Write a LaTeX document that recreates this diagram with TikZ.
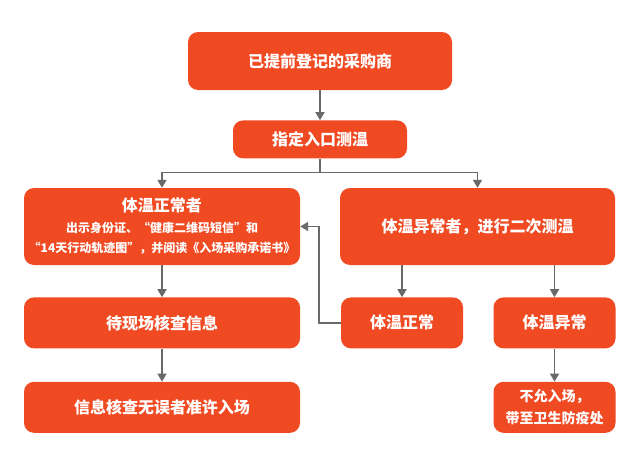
\documentclass[tikz,border=0pt]{standalone}
\usepackage{fontspec}
\newfontfamily\cjk{Noto Sans CJK SC}
\usepackage{tikz}
\usetikzlibrary{positioning,arrows.meta,calc}
\definecolor{boxred}{RGB}{240,74,35}
\definecolor{linegray}{RGB}{105,105,105}

\begin{document}
\begin{tikzpicture}[node distance=30pt, auto]
	\tikzset{
    	mynode/.style={rectangle,rounded corners=10pt,fill=boxred, draw=none, inner sep=0pt, text=white, align=center, font=\cjk\bfseries\fontsize{16}{20}\selectfont},
	    myarrow/.style={-{Triangle[width=9pt,length=8pt]}, draw=linegray, line width=1.6pt},
	    smalltext/.style={font=\cjk\bfseries\fontsize{12}{20.5}\selectfont}
	}
	\useasboundingbox (0pt,0pt) rectangle (640pt,-463pt);
	\node[mynode, minimum width=264pt, minimum height=58pt] at (320pt,-61pt) (reg) {已提前登记的采购商};
	\node[mynode, minimum width=174pt, minimum height=38pt, below=30pt of reg] (entry) {指定入口测温};
	\node[mynode, smalltext, minimum width=276pt, minimum height=77pt] at (162pt,-226.5pt) (normal) {{\fontsize{16}{20.5}\selectfont 体温正常者}\\出示身份证、“健康二维码短信”和\\“14天行动轨迹图”，并阅读《入场采购承诺书》};
	\node[mynode, minimum width=275pt, minimum height=77pt] at (477.5pt,-226.5pt) (abnormal) {体温异常者，进行二次测温};
	\node[mynode, minimum width=276pt, minimum height=51pt, below=32pt of normal] (wait) {待现场核查信息};
	\node[mynode, minimum width=276pt, minimum height=51pt, below=33pt of wait] (pass) {信息核查无误者准许入场};
	\node[mynode, minimum width=122pt, minimum height=51pt, below=32pt of abnormal, xshift=-75.5pt] (recheckok) {体温正常};
	\node[mynode, minimum width=122pt, minimum height=51pt, below=32pt of abnormal, xshift=77pt] (recheckbad) {体温异常};
	\node[mynode, font=\cjk\bfseries\fontsize{14}{22}\selectfont, minimum width=122pt, minimum height=51pt, below=33pt of recheckbad] (refuse) {不允入场，\\带至卫生防疫处};

	\draw[myarrow] (reg.south) -- (entry.north);
	\draw[myarrow] (entry.south) -- ++(0,-14pt) -| (normal.north);
	\draw[myarrow] (entry.south) -- ++(0,-14pt) -| (abnormal.north);
	\draw[myarrow] (normal.south) -- (wait.north);
	\draw[myarrow] (wait.south) -- (pass.north);
	\draw[myarrow] (abnormal.south -| recheckok.north) -- (recheckok.north);
	\draw[myarrow] (abnormal.south -| recheckbad.north) -- (recheckbad.north);
	\draw[myarrow] (recheckbad.south) -- (refuse.north);
	\draw[myarrow] (recheckok.west) -- ++(-22pt,0) |- (normal.east);
\end{tikzpicture}
\end{document}
